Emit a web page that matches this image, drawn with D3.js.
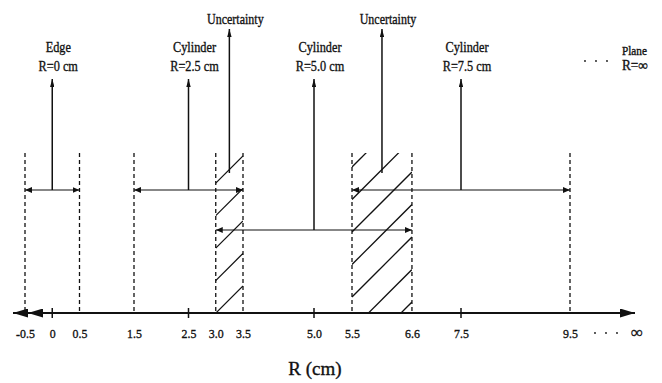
<!DOCTYPE html>
<html>
<head>
<meta charset="utf-8">
<script src="https://cdn.jsdelivr.net/npm/d3@7"></script>
<style>
  body { margin: 0; background: #fff; }
  svg { display: block; }
  text { font-family: "Liberation Serif", "DejaVu Serif", serif; fill: #111; stroke: #111; stroke-width: 0.35px; }
</style>
</head>
<body>
<svg id="chart" width="662" height="383"></svg>
<script>
// Axis ticks along R
const tickValues = [-0.5, 0, 0.5, 1.5, 2.5, 3.0, 3.5, 5.0, 5.5, 6.6, 7.5, 9.5];
const tickLabels = ["-0.5", "0", "0.5", "1.5", "2.5", "3.0", "3.5", "5.0", "5.5", "6.6", "7.5", "9.5"];

// Measurement windows: name, radius label, centre and extent (cm)
const windowNames = ["Edge", "Cylinder", "Cylinder", "Cylinder"];
const windowRadii = ["R=0 cm", "R=2.5 cm", "R=5.0 cm", "R=7.5 cm"];
const windowCenters = [0, 2.5, 5.0, 7.5];
const windowLow = [-0.5, 1.5, 3.0, 5.5];
const windowHigh = [0.5, 3.5, 6.6, 9.5];

// Overlap (uncertainty) bands between neighbouring windows
const uncertaintyLow = [3.0, 5.5];
const uncertaintyHigh = [3.5, 6.6];
const uncertaintyLabel = "Uncertainty";

const planeName = "Plane";
const planeRadius = "R=\u221E";
const axisTitle = "R (cm)";

const svg = d3.select("#chart");
const ink = "#111";

// Schematic (piecewise) radius scale
const x = d3.scaleLinear()
  .domain([-0.5, 3.5, 5.0, 5.5, 9.5])
  .range([25, 243, 314, 352, 570]);

const yAxis = 313, yBandTop = 153, yTip = 79, yUncTip = 29, yUncBase = 173;
const rowY = [190, 230];

// Arrowhead markers
const defs = svg.append("defs");
function marker(id, len, half) {
  defs.append("marker")
    .attr("id", id)
    .attr("viewBox", `0 ${-half} ${len} ${2 * half}`)
    .attr("refX", len).attr("refY", 0)
    .attr("markerUnits", "userSpaceOnUse")
    .attr("markerWidth", len).attr("markerHeight", 2 * half)
    .attr("orient", "auto-start-reverse")
    .append("path")
    .attr("d", `M0,${-half}L${len},0L0,${half}Z`)
    .attr("fill", ink);
}
marker("headSmall", 7, 3);
marker("headUp", 8, 2.2);
marker("headAxis", 15, 4.5);

function label(g, px, py, str, size, sx, anchor) {
  return g.append("text")
    .attr("transform", `translate(${px},${py}) scale(${sx},1)`)
    .attr("text-anchor", anchor || "middle")
    .style("font-size", size + "px")
    .text(str);
}

// Hatched uncertainty bands
const hatch = svg.append("g");
const spacing = 32.5;
uncertaintyLow.forEach((lo, i) => {
  const x0 = x(lo), x1 = x(uncertaintyHigh[i]);
  const id = "clip" + i;
  defs.append("clipPath").attr("id", id)
    .append("rect")
    .attr("x", x0).attr("y", yBandTop)
    .attr("width", x1 - x0).attr("height", yAxis - yBandTop);
  const cMid = (x0 + x1) / 2 + yAxis - 13.5;
  const ks = d3.range(-8, 3);
  hatch.append("g").attr("clip-path", `url(#${id})`)
    .selectAll("line").data(ks).join("line")
    .attr("x1", x0).attr("y1", k => cMid + k * spacing - x0)
    .attr("x2", x1).attr("y2", k => cMid + k * spacing - x1)
    .attr("stroke", ink).attr("stroke-width", 1.3);
});

// Dashed window boundaries
const bounds = Array.from(new Set(windowLow.concat(windowHigh))).sort(d3.ascending);
svg.append("g").selectAll("line").data(bounds).join("line")
  .attr("x1", d => x(d)).attr("x2", d => x(d))
  .attr("y1", yBandTop).attr("y2", yAxis)
  .attr("stroke", ink).attr("stroke-width", 1.3)
  .attr("stroke-dasharray", "4,3");

// Assign each window to a row so overlapping windows do not collide
const rowEnd = [-Infinity, -Infinity];
const windows = windowCenters.map((c, i) => {
  let row = windowLow[i] >= rowEnd[0] ? 0 : 1;
  rowEnd[row] = windowHigh[i];
  return { name: windowNames[i], radius: windowRadii[i], c, lo: windowLow[i], hi: windowHigh[i], row };
});

const wg = svg.append("g");
windows.forEach(w => {
  const y = rowY[w.row];
  wg.append("line")
    .attr("x1", x(w.lo)).attr("x2", x(w.hi)).attr("y1", y).attr("y2", y)
    .attr("stroke", ink).attr("stroke-width", 1.2)
    .attr("marker-start", "url(#headSmall)").attr("marker-end", "url(#headSmall)");
  wg.append("line")
    .attr("x1", x(w.c)).attr("x2", x(w.c)).attr("y1", y).attr("y2", yTip)
    .attr("stroke", ink).attr("stroke-width", 1.5)
    .attr("marker-end", "url(#headUp)");
  label(wg, x(w.c) + 6, 52, w.name, 15, 0.82);
  label(wg, x(w.c) + 6, 71, w.radius, 15, 0.82);
});

// Uncertainty pointers
uncertaintyLow.forEach((lo, i) => {
  const m = (lo + uncertaintyHigh[i]) / 2;
  wg.append("line")
    .attr("x1", x(m)).attr("x2", x(m)).attr("y1", yUncBase).attr("y2", yUncTip)
    .attr("stroke", ink).attr("stroke-width", 1.5)
    .attr("marker-end", "url(#headUp)");
  label(wg, x(m) + 6, 24, uncertaintyLabel, 15, 0.8);
});

// Plane at infinity
const planeX = 622;
label(wg, planeX, 55, planeName, 12.5, 0.9, "start");
label(wg, planeX, 70, planeRadius, 14, 0.95, "start");
wg.selectAll("circle.pd").data([0, 1, 2]).join("circle")
  .attr("class", "pd")
  .attr("cx", k => 585 + k * 11).attr("cy", 61).attr("r", 0.9).attr("fill", ink);

// R axis
svg.append("line")
  .attr("x1", x(-0.5) + 3).attr("x2", x(9.5) + 65)
  .attr("y1", yAxis).attr("y2", yAxis)
  .attr("stroke", ink).attr("stroke-width", 2)
  .attr("marker-start", "url(#headAxis)").attr("marker-end", "url(#headAxis)");
svg.append("line").attr("x1", x(-0.5)).attr("x2", 13).attr("y1", yAxis).attr("y2", yAxis)
  .attr("stroke", ink).attr("stroke-width", 2).attr("marker-end", "url(#headAxis)");

svg.append("g").selectAll("line").data(windowCenters).join("line")
  .attr("x1", d => x(d)).attr("x2", d => x(d))
  .attr("y1", yAxis - 5).attr("y2", yAxis + 5)
  .attr("stroke", ink).attr("stroke-width", 1.5);

const axis = d3.axisBottom(x)
  .tickValues(tickValues)
  .tickFormat((d, i) => tickLabels[i])
  .tickSize(0)
  .tickPadding(15);
const ag = svg.append("g").attr("transform", `translate(0,${yAxis})`).call(axis);
ag.select(".domain").remove();
ag.selectAll(".tick text")
  .attr("transform", "scale(0.88,1)")
  .style("font-family", '"Liberation Serif", serif')
  .style("font-size", "13.5px")
  .attr("fill", ink);

// Trailing "... ∞"
svg.append("g").selectAll("circle").data([0, 1, 2]).join("circle")
  .attr("cx", k => x(9.5) + 25 + k * 11).attr("cy", 333).attr("r", 0.9).attr("fill", ink);
svg.append("text")
  .attr("x", x(9.5) + 67).attr("y", 338)
  .attr("text-anchor", "middle")
  .style("font-size", "17px")
  .text("\u221E");

// Axis title
svg.append("text")
  .attr("x", 315).attr("y", 375)
  .attr("text-anchor", "middle")
  .style("font-size", "19px")
  .text(axisTitle);
</script>
</body>
</html>
